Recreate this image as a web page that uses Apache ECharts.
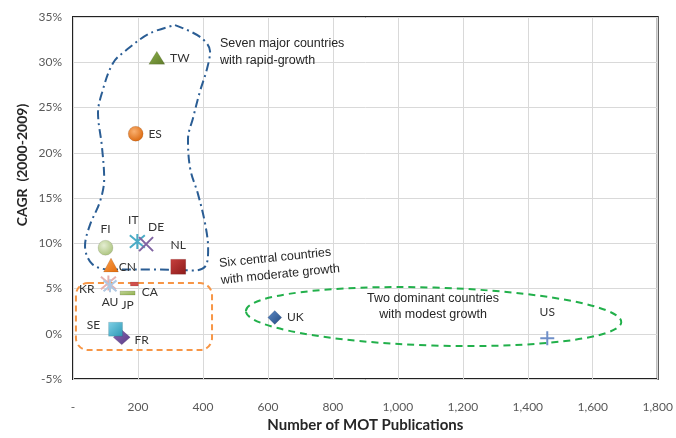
<!DOCTYPE html>
<html>
<head>
<meta charset="utf-8">
<script src="https://cdn.jsdelivr.net/npm/echarts@6/dist/echarts.min.js"></script>
<style>
  html, body { margin: 0; padding: 0; background: #fff; }
  #chart { width: 676px; height: 438px; }
</style>
</head>
<body>
<div id="chart"></div>
<script>
// countries, MOT publications and CAGR (%)
const countries = ['TW', 'ES', 'FI', 'IT', 'DE', 'NL', 'CN', 'KR', 'AU', 'CA', 'JP', 'FR', 'SE', 'UK', 'US']
const publications = [258, 193, 100, 198, 225, 324, 117, 109, 114, 189, 168, 150, 131, 621, 1460]
const cagr = [30.5, 22.1, 9.5, 10.2, 9.9, 7.4, 7.6, 5.6, 5.3, 5.5, 4.5, -0.4, 0.5, 1.8, -0.5]

const xTickLabels = ['-', '200', '400', '600', '800', '1,000', '1,200', '1,400', '1,600', '1,800']
const yTickLabels = ['-5%', '0%', '5%', '10%', '15%', '20%', '25%', '30%', '35%']

// outline of the "rapid growth" group (data units)
const rapidX = [314, 391, 422, 412, 391, 370, 354, 361, 385, 407, 416, 410, 376, 237, 114, 59, 37, 52, 83, 96, 89, 77, 89, 123, 166, 237, 314]
const rapidY = [34.1, 32.8, 31.2, 29.2, 26.8, 23.9, 21.5, 18.2, 15.4, 12.1, 9.4, 7.6, 7.0, 7.1, 7.1, 7.7, 9.7, 12.0, 14.6, 17.1, 20.7, 24.4, 26.6, 29.9, 31.4, 33.2, 34.1]

// boxes of the other two groups (data units)
const moderateBox = { x0: 9, x1: 428, y0: 5.6, y1: -1.8 }
const modestEllipse = { cx: 1110, cy: 1.9, rx: 578, ry: 3.2 }

const ASTER = 'path://M0,0L10,10M10,0L0,10M5,-1L5,11'
const CROSS = 'path://M0,0L10,10M10,0L0,10'
const PLUS = 'path://M5,0L5,10M0,5L10,5'

function grad(c1, c2) {
  return { type: 'linear', x: 0, y: 0, x2: 1, y2: 1, colorStops: [{ offset: 0, color: c1 }, { offset: 1, color: c2 }] }
}
function ball(c1, c2) {
  return { type: 'radial', x: 0.4, y: 0.35, r: 0.7, colorStops: [{ offset: 0, color: c1 }, { offset: 1, color: c2 }] }
}

const markers = {
  TW: { symbol: 'triangle', size: [16, 13], fill: grad('#8DB04A', '#5E7A2A') },
  ES: { symbol: 'circle', size: 15, fill: ball('#FAB070', '#D9650A') },
  FI: { symbol: 'circle', size: 15, fill: ball('#E4EDD2', '#A9C27A') },
  IT: { symbol: ASTER, size: 15, line: '#4BACC6' },
  DE: { symbol: CROSS, size: 14, line: '#8064A2' },
  NL: { symbol: 'rect', size: 15, fill: grad('#C8403D', '#8B1A1A') },
  CN: { symbol: 'triangle', size: [15, 14], fill: grad('#F9A050', '#E46C0A') },
  KR: { symbol: ASTER, size: 15, line: '#E6B0AE' },
  AU: { symbol: ASTER, size: 13, line: '#B0C8E2' },
  CA: { symbol: 'rect', size: [8, 4], fill: '#D0504D' },
  JP: { symbol: 'rect', size: [15, 4], fill: grad('#C3D69B', '#8FB04A') },
  FR: { symbol: 'diamond', size: [17, 15], fill: grad('#8A6AB5', '#5A3A85') },
  SE: { symbol: 'rect', size: 14, fill: grad('#7FD0E6', '#2C97B4') },
  UK: { symbol: 'diamond', size: [14, 14], fill: grad('#5F8CC8', '#21487F') },
  US: { symbol: PLUS, size: 14, line: '#6F8FC8' }
}

const labelPos = {
  TW: { position: 'right', distance: 5 },
  ES: { position: 'right', distance: 5 },
  FI: { position: 'top', distance: 5 },
  IT: { position: 'top', distance: 5, offset: [-4, 0] },
  DE: { position: 'top', distance: 2, offset: [10, 0] },
  NL: { position: 'top', distance: 8 },
  CN: { position: 'right', distance: 0, offset: [0, 2] },
  KR: { position: 'left', distance: 4, offset: [0, 6] },
  AU: { position: 'bottom', distance: 1 },
  CA: { position: 'right', distance: 3, offset: [0, 8] },
  JP: { position: 'bottom', distance: 4 },
  FR: { position: 'right', distance: 4, offset: [0, 3] },
  SE: { position: 'left', distance: 8, offset: [0, -4] },
  UK: { position: 'right', distance: 5 },
  US: { position: 'top', distance: 11 }
}

const TEXT_FONT = '"Liberation Sans", Arial, sans-serif'
const AXIS_FONT = 'Lato, "Open Sans", sans-serif'

const points = countries.map((name, i) => {
  const m = markers[name]
  const item = {
    name: name,
    value: [publications[i], cagr[i]],
    symbol: m.symbol,
    symbolSize: m.size,
    label: Object.assign({ show: true, formatter: name }, labelPos[name])
  }
  if (m.line) {
    item.itemStyle = { color: 'none', borderColor: m.line, borderWidth: 2, opacity: 1 }
  } else {
    item.itemStyle = { color: m.fill, borderColor: 'rgba(0,0,0,0.2)', borderWidth: 0.5, opacity: 1 }
  }
  return item
})

const chart = echarts.init(document.getElementById('chart'), null, { renderer: 'canvas' })

chart.setOption({
  animation: false,
  backgroundColor: '#fff',
  grid: {
    left: 73, right: 18, top: 17, bottom: 57,
    show: true, borderColor: '#222', borderWidth: 2
  },
  xAxis: {
    type: 'value',
    min: 0, max: 1800, interval: 200,
    name: 'Number of MOT Publications',
    nameLocation: 'middle',
    nameGap: 39,
    nameTextStyle: { fontFamily: AXIS_FONT, fontWeight: 'bold', fontSize: 15, color: '#262626' },
    axisLine: { show: false },
    axisTick: { show: false },
    axisLabel: {
      margin: 22,
      fontFamily: AXIS_FONT, fontSize: 12, color: '#595959',
      formatter: (v, i) => xTickLabels[i]
    },
    splitLine: { show: true, lineStyle: { color: '#D9D9D9', width: 1 } }
  },
  yAxis: {
    type: 'value',
    min: -5, max: 35, interval: 5,
    axisLine: { show: false },
    axisTick: { show: false },
    axisLabel: {
      margin: 11,
      fontFamily: AXIS_FONT, fontSize: 12, color: '#595959',
      formatter: (v, i) => yTickLabels[i]
    },
    splitLine: { show: true, lineStyle: { color: '#D9D9D9', width: 1 } }
  },
  series: [
    {
      type: 'line',
      data: rapidX.map((x, i) => [x, rapidY[i]]),
      smooth: 0.35,
      symbol: 'none',
      silent: true,
      z: 1,
      lineStyle: { color: '#2A5D94', width: 2, type: [9, 4, 2, 4] }
    },
    {
      type: 'scatter',
      data: points,
      z: 3,
      label: { fontFamily: AXIS_FONT, fontSize: 12, color: '#333' }
    }
  ]
})

// group outlines and notes, placed through the grid's coordinate system
function px(x, y) {
  return chart.convertToPixel({ gridIndex: 0 }, [x, y])
}
const b0 = px(moderateBox.x0, moderateBox.y0)
const b1 = px(moderateBox.x1, moderateBox.y1)
const ec = px(modestEllipse.cx, modestEllipse.cy)
const er = px(modestEllipse.cx + modestEllipse.rx, modestEllipse.cy + modestEllipse.ry)

chart.setOption({
  graphic: [
    {
      type: 'rect',
      shape: { x: b0[0], y: b0[1], width: b1[0] - b0[0], height: b1[1] - b0[1], r: 12 },
      style: { fill: 'none', stroke: '#F79646', lineWidth: 2, lineDash: [6, 4] },
      z: 2
    },
    {
      type: 'ellipse',
      x: ec[0], y: ec[1],
      rotation: -0.03,
      shape: { cx: 0, cy: 0, rx: er[0] - ec[0], ry: ec[1] - er[1] },
      style: { fill: 'none', stroke: '#22B04B', lineWidth: 2, lineDash: [7, 5] },
      z: 2
    },
    {
      type: 'text', x: 220, y: 52,
      style: { text: 'Seven major countries\nwith rapid-growth', font: '12.5px ' + TEXT_FONT, fill: '#262626', lineHeight: 17, verticalAlign: 'middle' }
    },
    {
      type: 'text', x: 220, y: 272, rotation: 0.1,
      style: { text: 'Six central countries\nwith moderate growth', font: '12.5px ' + TEXT_FONT, fill: '#262626', lineHeight: 17, verticalAlign: 'middle' }
    },
    {
      type: 'text', x: 433, y: 307,
      style: { text: 'Two dominant countries\nwith modest growth', font: '12.5px ' + TEXT_FONT, fill: '#262626', lineHeight: 16, align: 'center', verticalAlign: 'middle' }
    },
    {
      type: 'text', x: 22, y: 165, rotation: Math.PI / 2,
      style: { text: 'CAGR  (2000-2009)', font: 'bold 14px ' + AXIS_FONT, fill: '#262626', align: 'center', verticalAlign: 'middle' }
    }
  ]
})
</script>
</body>
</html>
